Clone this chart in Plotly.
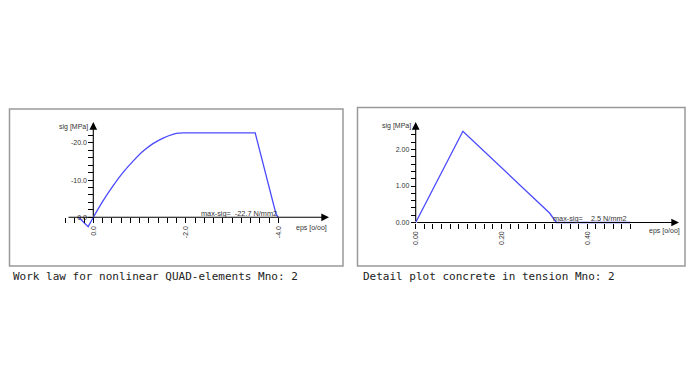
import plotly.graph_objects as go

# ---------------- data ----------------
# Left: work law (eps in o/oo, sig in MPa); compression negative
work_eps = [0.32, 0.11, 0.0, -0.21, -0.43, -0.64, -0.86, -1.08, -1.29, -1.51, -1.72, -1.83, -1.94, -3.50, -3.95, -4.00]
work_sig = [0.0, 2.5, 0.0, -4.4, -8.5, -12.0, -15.1, -17.8, -19.8, -21.3, -22.3, -22.6, -22.7, -22.7, -0.9, 0.0]
# Right: tension detail
ten_eps = [0.0, 0.11, 0.312, 0.328, 0.50]
ten_sig = [0.0, 2.5, 0.26, 0.0, 0.0]

left_xticks = [0.0, -2.0, -4.0]
left_xticklabels = ["0.0", "-2.0", "-4.0"]
left_yticks = [0.0, -10.0, -20.0]
left_yticklabels = ["0.0", "-10.0", "-20.0"]
right_xticks = [0.0, 0.2, 0.4]
right_xticklabels = ["0.00", "0.20", "0.40"]
right_yticks = [0.0, 1.0, 2.0]
right_yticklabels = ["0.00", "1.00", "2.00"]

left_caption = "Work law for nonlinear QUAD-elements Mno: 2"
right_caption = "Detail plot concrete in tension Mno: 2"
left_maxsig = "max-sig=\u00a0\u00a0-22.7 N/mm2"
right_maxsig = "max-sig=\u00a0\u00a0\u00a0\u00a02.5 N/mm2"

W, H = 695, 391
FONT = "Liberation Sans, Arial, sans-serif"
TXT = "#333333"
LINE = "#4a4aff"

def px2x(p):
    return p / W

def px2y(p):
    return 1 - p / H

def steps(a, b, s):
    n = int(round((b - a) / s))
    return [round(a + i * s, 4) for i in range(n + 1)]

fig = go.Figure()
# work law drawn in three pieces: tension (linear), ascending compression (smooth), plateau/descent (linear)
i_zero = work_eps.index(0.0)
i_peak = 12
pieces = [(0, i_zero + 1, "linear"), (i_zero, i_peak + 1, "spline"), (i_peak, len(work_eps), "linear")]
for a, b, shp in pieces:
    fig.add_trace(go.Scatter(x=work_eps[a:b], y=work_sig[a:b], mode="lines",
                             line=dict(color=LINE, width=1.3, shape=shp, smoothing=0.8),
                             xaxis="x", yaxis="y", showlegend=False, hoverinfo="skip"))
fig.add_trace(go.Scatter(x=ten_eps, y=ten_sig, mode="lines", line=dict(color=LINE, width=1.3),
                         xaxis="x2", yaxis="y2", showlegend=False, hoverinfo="skip"))

# ---- left geometry (pixels) ----
L_x0, L_xs = 93.3, 46.25     # px of eps=0, px per unit (reversed)
L_y0, L_ys = 217.3, 3.72     # px of sig=0, px per unit (negative up)
Lx_dom = (60, 332)
Ly_dom = (240, 115)
# ---- right geometry ----
R_x0, R_xs = 415.7, 429.0
R_y0, R_ys = 222.5, 36.5
Rx_dom = (405, 682)
Ry_dom = (232, 115)

def minor_vals(a, b, s, majors):
    return [v for v in steps(a, b, s) if all(abs(v - m) > 1e-6 for m in majors)]

common_ax = dict(showgrid=False, zeroline=False, showline=False, ticks="outside", ticklen=5,
                 tickwidth=1, tickcolor="black", tickfont=dict(family=FONT, size=7, color=TXT),
                 tickmode="array", fixedrange=True)

fig.update_layout(
    width=W, height=H, margin=dict(l=0, r=0, t=0, b=0),
    paper_bgcolor="white", plot_bgcolor="rgba(0,0,0,0)",
    xaxis=dict(**common_ax, domain=[px2x(Lx_dom[0]), px2x(Lx_dom[1])],
               range=[(L_x0 - Lx_dom[0]) / L_xs, -(Lx_dom[1] - L_x0) / L_xs],
               anchor="free", position=px2y(L_y0), tickangle=-90,
               tickvals=left_xticks, ticktext=left_xticklabels,
               minor=dict(tickmode="array", tickvals=minor_vals(-4.0, 0.6, 0.2, left_xticks),
                          ticks="outside", ticklen=5, tickcolor="black", tickwidth=1)),
    yaxis=dict(**common_ax, domain=[px2y(Ly_dom[0]), px2y(Ly_dom[1])],
               range=[(Ly_dom[0] - L_y0) / L_ys, -(L_y0 - Ly_dom[1]) / L_ys],
               anchor="free", position=px2x(L_x0),
               tickvals=left_yticks, ticktext=left_yticklabels,
               minor=dict(tickmode="array", tickvals=minor_vals(-22.0, 0.0, 2.0, left_yticks),
                          ticks="outside", ticklen=5, tickcolor="black", tickwidth=1)),
    xaxis2=dict(**common_ax, domain=[px2x(Rx_dom[0]), px2x(Rx_dom[1])],
                range=[(Rx_dom[0] - R_x0) / R_xs, (Rx_dom[1] - R_x0) / R_xs],
                anchor="free", position=px2y(R_y0), tickangle=-90,
                tickvals=right_xticks, ticktext=right_xticklabels,
                minor=dict(tickmode="array", tickvals=minor_vals(0.0, 0.5, 0.02, right_xticks),
                           ticks="outside", ticklen=5, tickcolor="black", tickwidth=1)),
    yaxis2=dict(**common_ax, domain=[px2y(Ry_dom[0]), px2y(Ry_dom[1])],
                range=[-(Ry_dom[0] - R_y0) / R_ys, (R_y0 - Ry_dom[1]) / R_ys],
                anchor="free", position=px2x(R_x0),
                tickvals=right_yticks, ticktext=right_yticklabels,
                minor=dict(tickmode="array", tickvals=minor_vals(0.0, 2.4, 0.2, right_yticks),
                           ticks="outside", ticklen=5, tickcolor="black", tickwidth=1)),
)

# frames
fig.add_shape(type="rect", xref="paper", yref="paper", x0=px2x(9.5), x1=px2x(343), y0=px2y(266), y1=px2y(109),
              line=dict(color="#999999", width=1.5), fillcolor="rgba(0,0,0,0)", layer="below")
fig.add_shape(type="rect", xref="paper", yref="paper", x0=px2x(357.5), x1=px2x(685), y0=px2y(266), y1=px2y(107.5),
              line=dict(color="#999999", width=1.5), fillcolor="rgba(0,0,0,0)", layer="below")

def arrow(xr, yr, x0, y0, x1, y1):
    fig.add_annotation(xref=xr, yref=yr, axref=xr, ayref=yr, x=x1, y=y1, ax=x0, ay=y0, text="",
                       showarrow=True, arrowhead=2, arrowsize=1.4, arrowwidth=1.1, arrowcolor="black")

# axis lines with arrows
arrow("x", "y", (L_x0 - 67) / L_xs, 0, -(329 - L_x0) / L_xs, 0)
arrow("x", "y", 0, 0, 0, -(L_y0 - 122) / L_ys)
arrow("x2", "y2", 0, 0, (679 - R_x0) / R_xs, 0)
arrow("x2", "y2", 0, 0, 0, (R_y0 - 122) / R_ys)

def label(text, x, y, xanchor="left", size=7, family=FONT, color=TXT):
    fig.add_annotation(xref="paper", yref="paper", x=px2x(x), y=px2y(y), text=text, showarrow=False,
                       xanchor=xanchor, yanchor="middle", font=dict(family=family, size=size, color=color))

label("sig [MPa]", 89.5, 127, xanchor="right")
label("eps [o/oo]", 294, 228)
label(left_maxsig, 279, 213, xanchor="right", size=7.3)
label("sig [MPa]", 412.5, 125.5, xanchor="right")
label("eps [o/oo]", 647, 231)
label(right_maxsig, 629, 218, xanchor="right", size=7.3)

label(left_caption, 11, 276, size=11, family="DejaVu Sans Mono, monospace", color="#222222")
label(right_caption, 361, 276, size=11, family="DejaVu Sans Mono, monospace", color="#222222")

fig.write_html("out.html", config={"displayModeBar": False},
               post_script="document.body.style.margin='0';document.body.style.overflow='hidden';")
